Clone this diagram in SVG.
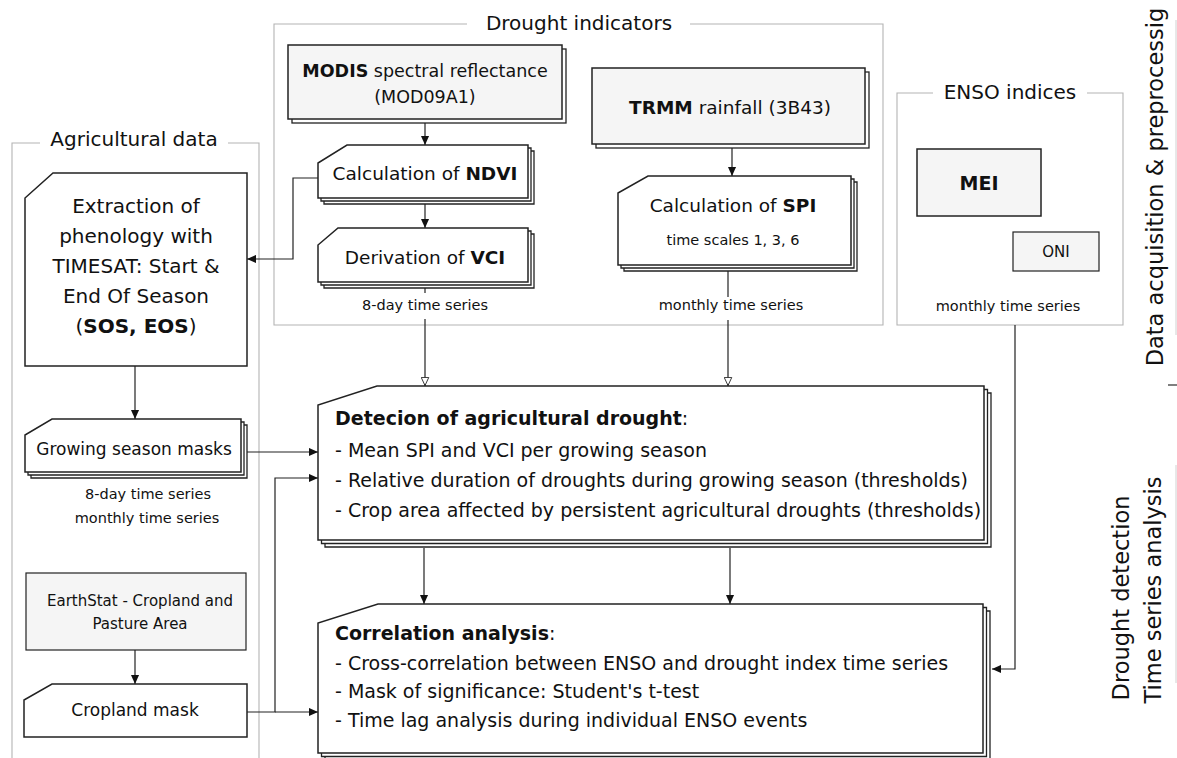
<svg xmlns="http://www.w3.org/2000/svg" width="1177" height="758" viewBox="0 0 1177 758">
<defs>
<style>
text{font-family:"DejaVu Sans","Liberation Sans",sans-serif;fill:#111}
.grp{fill:none;stroke:#b4b4b4;stroke-width:1.1}
.box{fill:#fff;stroke:#222;stroke-width:1.5}
.gbox{fill:#f5f5f5;stroke:#222;stroke-width:1.5}
.sh{fill:#fff;stroke:#222;stroke-width:1.3}
.con{fill:none;stroke:#222;stroke-width:1.2}
.b{font-weight:bold}
.t19{font-size:19px}
.t18{font-size:18.5px}
.t17{font-size:17px}
.t15{font-size:15px}
.t14{font-size:14.5px}
.ttl{font-size:20px}
.side{font-size:22.5px}
</style>
<marker id="af" viewBox="0 0 10 10" refX="10" refY="5" markerWidth="9" markerHeight="9" markerUnits="userSpaceOnUse" orient="auto">
<path d="M0,0.5 L10,5 L0,9.5 Z" fill="#111"/>
</marker>
<marker id="ah" viewBox="0 0 10 10" refX="10" refY="5" markerWidth="9" markerHeight="9" markerUnits="userSpaceOnUse" orient="auto">
<path d="M0.5,0.8 L9.5,5 L0.5,9.2 Z" fill="#fff" stroke="#222" stroke-width="1"/>
</marker>
</defs>
<rect width="1177" height="758" fill="#fff"/>

<!-- groups -->
<g id="group-drought-indicators">
<path class="grp" d="M467,24 H274 V325 H883 V24 H690"/>
<text class="ttl" x="579" y="30" text-anchor="middle">Drought indicators</text>
</g>
<g id="group-enso">
<path class="grp" d="M933,93 H897 V325 H1123 V93 H1087"/>
<text class="ttl" x="1010" y="99" text-anchor="middle">ENSO indices</text>
</g>
<g id="group-agricultural">
<path class="grp" d="M40,143 H12 V770 M259,770 V143 H228"/>
<text class="ttl" x="134" y="146" text-anchor="middle">Agricultural data</text>
</g>

<!-- connectors -->
<g id="connectors">
<line class="con" x1="425" y1="123" x2="425" y2="145" marker-end="url(#af)"/>
<line class="con" x1="425" y1="204" x2="425" y2="228" marker-end="url(#af)"/>
<line class="con" x1="732" y1="148" x2="732" y2="176" marker-end="url(#af)"/>
<polyline class="con" points="318,178 293,178 293,259 247,259" marker-end="url(#af)"/>
<line class="con" x1="425" y1="288" x2="425" y2="293"/>
<line class="con" x1="425" y1="319" x2="425" y2="386" marker-end="url(#ah)"/>
<line class="con" x1="728" y1="271" x2="728" y2="297"/>
<line class="con" x1="728" y1="320" x2="728" y2="386" marker-end="url(#ah)"/>
<line class="con" x1="135" y1="366" x2="135" y2="419" marker-end="url(#af)"/>
<line class="con" x1="135" y1="650" x2="135" y2="684" marker-end="url(#af)"/>
<line class="con" x1="247" y1="452" x2="318" y2="452" marker-end="url(#af)"/>
<polyline class="con" points="247,712 275,712 275,478 318,478" marker-end="url(#af)"/>
<line class="con" x1="275" y1="712" x2="318" y2="712" marker-end="url(#af)"/>
<line class="con" x1="424" y1="548" x2="424" y2="604" marker-end="url(#af)"/>
<line class="con" x1="730" y1="548" x2="730" y2="604" marker-end="url(#af)"/>
<polyline class="con" points="1015,325 1015,669 992,669" marker-end="url(#af)"/>
</g>

<!-- Drought indicator nodes -->
<g id="node-modis">
<rect class="sh" x="292" y="49" width="274" height="74"/>
<rect class="gbox" x="288" y="45" width="274" height="74"/>
<text class="t18" x="425" y="77" text-anchor="middle" style="font-size:17.5px"><tspan class="b">MODIS</tspan> spectral reflectance</text>
<text class="t18" x="425" y="103" text-anchor="middle" style="font-size:17.5px">(MOD09A1)</text>
</g>
<g id="node-ndvi">
<path class="sh" d="M353,151 H534 V204 H324 V169 Z"/>
<path class="sh" d="M350,148 H531 V201 H321 V166 Z"/>
<path class="box" d="M347,145 H528 V198 H318 V163 Z"/>
<text class="t18" x="425" y="180" text-anchor="middle">Calculation of <tspan class="b">NDVI</tspan></text>
</g>
<g id="node-vci">
<path class="sh" d="M344,234 H534 V288 H324 V251 Z"/>
<path class="sh" d="M341,231 H531 V285 H321 V248 Z"/>
<path class="box" d="M338,228 H528 V282 H318 V245 Z"/>
<text class="t18" x="425" y="264" text-anchor="middle">Derivation of <tspan class="b">VCI</tspan></text>
</g>
<text class="t14" x="425" y="310" text-anchor="middle">8-day time series</text>
<g id="node-trmm">
<rect class="sh" x="596" y="72" width="273" height="76"/>
<rect class="gbox" x="592" y="68" width="273" height="76"/>
<text class="t18" x="730" y="114" text-anchor="middle"><tspan class="b">TRMM</tspan> rainfall (3B43)</text>
</g>
<g id="node-spi">
<path class="sh" d="M654,182 H857 V271 H624 V199 Z"/>
<path class="sh" d="M651,179 H854 V268 H621 V196 Z"/>
<path class="box" d="M648,176 H851 V265 H618 V193 Z"/>
<text class="t18" x="733" y="212" text-anchor="middle">Calculation of <tspan class="b">SPI</tspan></text>
<text class="t14" x="733" y="245" text-anchor="middle">time scales 1, 3, 6</text>
</g>
<text class="t14" x="731" y="310" text-anchor="middle">monthly time series</text>

<!-- ENSO nodes -->
<g id="node-mei">
<rect class="gbox" x="917" y="149" width="124" height="67"/>
<text class="t19 b" x="979" y="190" text-anchor="middle">MEI</text>
</g>
<g id="node-oni">
<rect class="gbox" x="1013" y="232" width="86" height="39" style="stroke-width:1.2"/>
<text class="t15" x="1056" y="257" text-anchor="middle">ONI</text>
</g>
<text class="t14" x="1008" y="311" text-anchor="middle">monthly time series</text>

<!-- Agricultural nodes -->
<g id="node-extraction">
<path class="box" d="M53,173 H247 V366 H25 V198 Z"/>
<text class="t19" x="136" y="213" text-anchor="middle" style="font-size:20px">Extraction of</text>
<text class="t19" x="136" y="243" text-anchor="middle" style="font-size:20px">phenology with</text>
<text class="t19" x="136" y="273" text-anchor="middle" style="font-size:20px">TIMESAT: Start &amp;</text>
<text class="t19" x="136" y="303" text-anchor="middle" style="font-size:20px">End Of Season</text>
<text class="t19" x="136" y="333" text-anchor="middle" style="font-size:20px">(<tspan class="b">SOS, EOS</tspan>)</text>
</g>
<g id="node-growing">
<path class="sh" d="M58,425 H247 V478 H31 V441 Z"/>
<path class="sh" d="M55,422 H244 V475 H28 V438 Z"/>
<path class="box" d="M52,419 H241 V472 H25 V435 Z"/>
<text class="t17" x="134" y="455" text-anchor="middle">Growing season masks</text>
</g>
<text class="t14" x="148" y="499" text-anchor="middle">8-day time series</text>
<text class="t14" x="147" y="523" text-anchor="middle">monthly time series</text>
<g id="node-earthstat">
<rect class="gbox" x="26" y="573" width="220" height="77" style="stroke-width:1.2"/>
<text class="t15" x="140" y="606" text-anchor="middle">EarthStat - Cropland and</text>
<text class="t15" x="140" y="629" text-anchor="middle">Pasture Area</text>
</g>
<g id="node-cropland">
<path class="box" d="M52,684 H247 V737 H24 V700 Z"/>
<text class="t17" x="135" y="716" text-anchor="middle">Cropland mask</text>
</g>

<!-- Analysis nodes -->
<g id="node-detection">
<path class="sh" d="M384,393 H991 V547 H325 V412 Z"/>
<path class="sh" d="M380.5,389.5 H987.5 V543.5 H321.5 V408.5 Z"/>
<path class="box" d="M377,386 H984 V540 H318 V405 Z"/>
<text class="t19" x="335" y="425"><tspan class="b">Detecion of agricultural drought</tspan>:</text>
<text class="t19" x="335" y="457">- Mean SPI and VCI per growing season</text>
<text class="t19" x="335" y="487">- Relative duration of droughts during growing season (thresholds)</text>
<text class="t19" x="335" y="517">- Crop area affected by persistent agricultural droughts (thresholds)</text>
</g>
<g id="node-correlation">
<path class="sh" d="M385,611 H990 V760 H325 V630 Z"/>
<path class="sh" d="M381.5,607.5 H986.5 V756.5 H321.5 V626.5 Z"/>
<path class="box" d="M378,604 H983 V753 H318 V623 Z"/>
<text class="t19" x="335" y="640"><tspan class="b">Correlation analysis</tspan>:</text>
<text class="t19" x="335" y="670">- Cross-correlation between ENSO and drought index time series</text>
<text class="t19" x="335" y="698">- Mask of significance: Student's t-test</text>
<text class="t19" x="335" y="727">- Time lag analysis during individual ENSO events</text>
</g>

<!-- side labels -->
<g id="side-labels">
<line x1="1176" y1="20" x2="1176" y2="335" stroke="#d0d0d0" stroke-width="1"/>
<line x1="1168" y1="385" x2="1177" y2="385" stroke="#555" stroke-width="1.5"/>
<line x1="1176" y1="465" x2="1176" y2="683" stroke="#d0d0d0" stroke-width="1"/>
<text class="side" transform="translate(1163,187) rotate(-90)" text-anchor="middle">Data acquisition &amp; preprocessig</text>
<text class="side" transform="translate(1129,598) rotate(-90)" text-anchor="middle">Drought detection</text>
<text class="side" transform="translate(1161,590) rotate(-90)" text-anchor="middle">Time series analysis</text>
</g>
</svg>
